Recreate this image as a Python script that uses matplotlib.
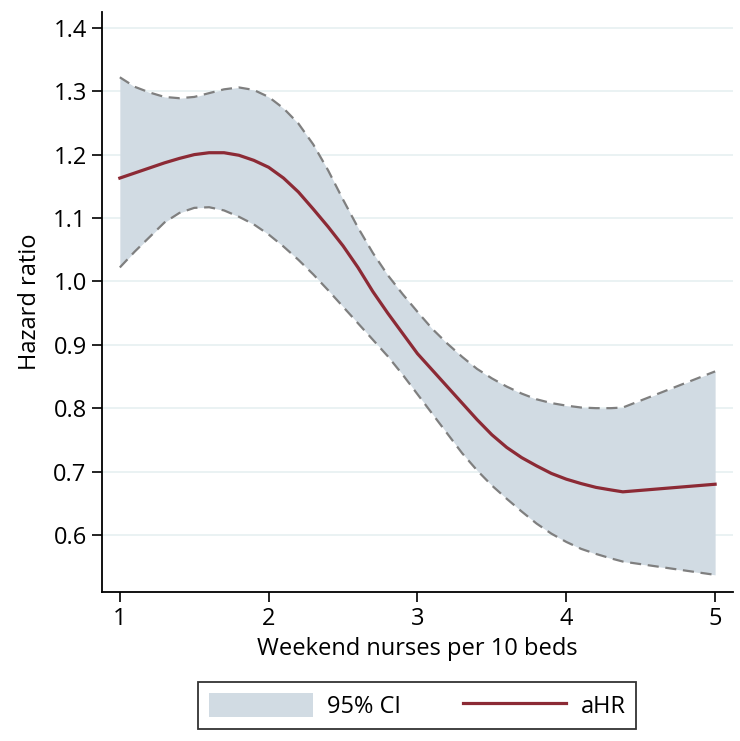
import numpy as np
import matplotlib.pyplot as plt

plt.rcParams['font.family'] = ['Open Sans', 'DejaVu Sans']

# values
nurses = [1.0, 1.1, 1.2, 1.3, 1.4, 1.5, 1.6, 1.7, 1.8, 1.9, 2.0,
          2.1, 2.2, 2.3, 2.4, 2.5, 2.6, 2.7, 2.8, 2.9, 3.0,
          3.1, 3.2, 3.3, 3.4, 3.5, 3.6, 3.7, 3.8, 3.9, 4.0,
          4.1, 4.2, 4.3, 4.38, 5.0]
ahr = [1.163, 1.171, 1.179, 1.187, 1.194, 1.200, 1.203, 1.203, 1.199, 1.191, 1.180,
       1.163, 1.141, 1.114, 1.086, 1.056, 1.022, 0.984, 0.950, 0.918, 0.886,
       0.860, 0.834, 0.808, 0.782, 0.758, 0.738, 0.722, 0.709, 0.697, 0.688,
       0.681, 0.675, 0.671, 0.668, 0.680]
ci_upper = [1.322, 1.307, 1.298, 1.291, 1.289, 1.291, 1.297, 1.303, 1.306, 1.302, 1.291,
            1.273, 1.249, 1.216, 1.175, 1.129, 1.085, 1.045, 1.010, 0.980, 0.952,
            0.925, 0.902, 0.881, 0.862, 0.847, 0.834, 0.823, 0.814, 0.808, 0.804,
            0.801, 0.800, 0.800, 0.801, 0.858]
ci_lower = [1.022, 1.047, 1.070, 1.093, 1.108, 1.116, 1.117, 1.112, 1.102, 1.090, 1.074,
            1.055, 1.034, 1.011, 0.986, 0.960, 0.934, 0.908, 0.882, 0.853, 0.822,
            0.791, 0.760, 0.729, 0.702, 0.678, 0.657, 0.637, 0.618, 0.602, 0.589,
            0.578, 0.570, 0.563, 0.558, 0.537]

yticks = [0.6, 0.7, 0.8, 0.9, 1.0, 1.1, 1.2, 1.3, 1.4]
xticks = [1, 2, 3, 4, 5]

fill_col = '#d1dbe3'
dash_col = '#7f7f7f'
line_col = '#8c2a35'

fig = plt.figure(figsize=(7.40, 7.41), dpi=100)
ax = fig.add_axes([0.1378, 0.2011, 0.8527, 0.7827])

ax.fill_between(nurses, ci_lower, ci_upper, color=fill_col, linewidth=0,
                label='95% CI', zorder=2)
ax.plot(nurses, ci_upper, color=dash_col, lw=1.6, dashes=(5, 3), zorder=3)
ax.plot(nurses, ci_lower, color=dash_col, lw=1.6, dashes=(5, 3), zorder=3)
ax.plot(nurses, ahr, color=line_col, lw=2.3, label='aHR', zorder=4)

ax.set_xlim(0.88, 5.12)
ax.set_ylim(0.51, 1.425)
ax.set_xticks(xticks)
ax.set_yticks(yticks)
ax.set_yticklabels(['%.1f' % v for v in yticks])

ax.grid(axis='y', color='#eaf2f3', lw=1.4, zorder=0)
ax.set_axisbelow(True)

for s in ['top', 'right']:
    ax.spines[s].set_visible(False)
for s in ['left', 'bottom']:
    ax.spines[s].set_linewidth(1.3)

ax.tick_params(axis='both', length=7, width=1.2, labelsize=17, pad=4,
               colors='black')
ax.set_xlabel('Weekend nurses per 10 beds', fontsize=17, labelpad=4)
ax.set_ylabel('Hazard ratio', fontsize=17, labelpad=8)

leg = fig.legend(loc='center', bbox_to_anchor=(0.564, 0.0475), ncol=2,
                 fontsize=17, frameon=True, fancybox=False,
                 handlelength=4.4, handleheight=1.2, columnspacing=2.6,
                 handletextpad=0.6, borderpad=0.45)
leg.get_frame().set_edgecolor('black')
leg.get_frame().set_linewidth(1.3)

fig.savefig('out.png', dpi=100, facecolor='white')
